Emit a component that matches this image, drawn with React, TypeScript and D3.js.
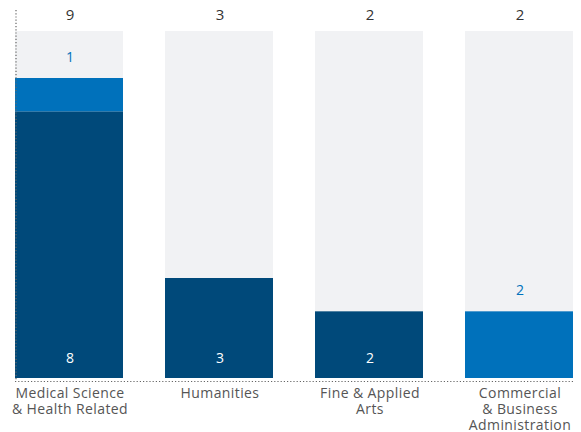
import React from "react";
import * as d3 from "d3";

const categories = ["Medical Science & Health Related", "Humanities", "Fine & Applied Arts", "Commercial & Business Administration"];
const categoryLines = [["Medical Science", "& Health Related"], ["Humanities"], ["Fine & Applied", "Arts"], ["Commercial", "& Business", "Administration"]];
const darkValues = [8, 3, 2, 0];
const blueValues = [1, 0, 0, 2];
const totals = [9, 3, 2, 2];

const W = 581, H = 432;
const DARK = "#00497a";
const BLUE = "#0071bb";
const GREY = "#f1f2f4";
const FONT = "'Open Sans', Lato, sans-serif";

export default function App() {
  const x = d3.scaleBand<string>().domain(categories).range([15, 573]).paddingInner(0.28).paddingOuter(0);
  const y = d3.scaleLinear().domain([0, 9]).range([378, 78]);
  const plotTop = 31;
  return (
    <svg width={W} height={H} style={{ position: "absolute", left: 0, top: 0, background: "#fff" }}>
      {categories.map((c, i) => {
        const x0 = x(c)!;
        const bw = x.bandwidth();
        const cx = x0 + bw / 2 + 1;
        const d = darkValues[i];
        const b = blueValues[i];
        return (
          <g key={c}>
            <rect x={x0} y={plotTop} width={bw} height={y(0) - plotTop} fill={GREY} />
            {d > 0 && <rect x={x0} y={y(d)} width={bw} height={y(0) - y(d)} fill={DARK} />}
            {b > 0 && <rect x={x0} y={y(d + b)} width={bw} height={y(d) - y(d + b)} fill={BLUE} />}
            {d > 0 && (
              <text x={cx} y={y(0) - 15} textAnchor="middle" fill="#fff" fontSize={14} fontFamily={FONT}>{d}</text>
            )}
            {b > 0 && (
              <text x={cx} y={y(d + b) - 16} textAnchor="middle" fill={BLUE} fontSize={14} fontFamily={FONT}>{b}</text>
            )}
            <text x={cx} y={20} textAnchor="middle" fill="#333" fontSize={15} fontFamily={FONT}>{totals[i]}</text>
            {categoryLines[i].map((ln, j) => (
              <text key={j} x={cx} y={398 + j * 16} textAnchor="middle" fill="#555" fontSize={14} letterSpacing={0.4} fontFamily={FONT}>{ln}</text>
            ))}
          </g>
        );
      })}
      <line x1={16} x2={16} y1={10} y2={381} stroke="#666" strokeWidth={1.2} strokeDasharray="1.2 2" />
      <line x1={15} x2={573} y1={381.5} y2={381.5} stroke="#666" strokeWidth={1.2} strokeDasharray="1.2 2" />
    </svg>
  );
}
